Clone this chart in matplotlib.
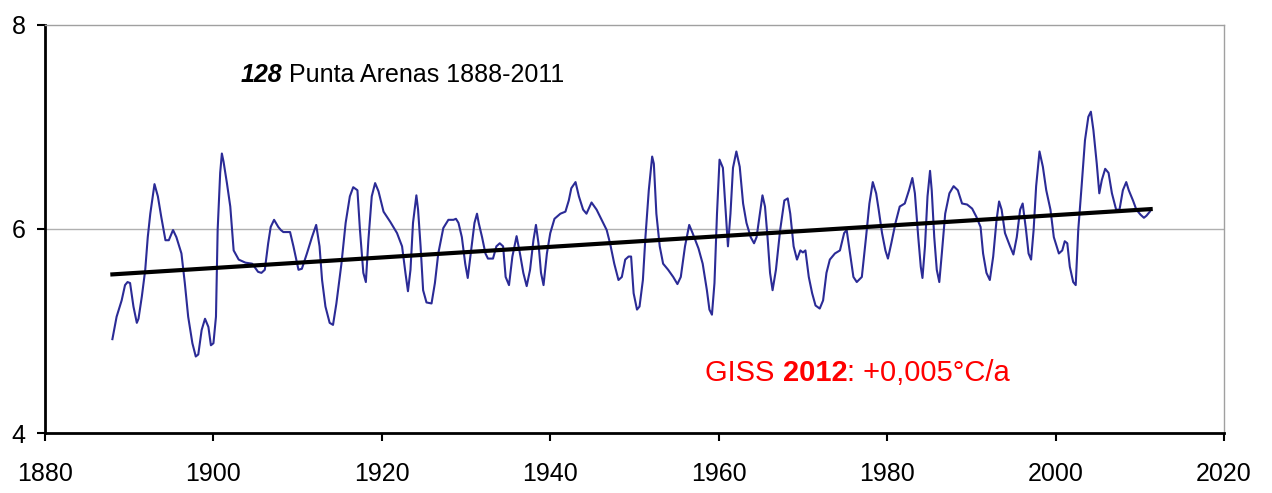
"""
plot.py
-------
Punta Arenas (station 128) annual mean temperature, 1888-2011, with linear trend.
"""
import matplotlib.pyplot as plt

plt.rcParams["font.family"] = ["Liberation Sans", "DejaVu Sans"]

# smoothed temperature series (year, degC)
years = [
    1888.0, 1888.5, 1889.1, 1889.5, 1889.8, 1890.1, 1890.5, 1890.9, 1891.1, 1891.5,
    1891.9, 1892.2, 1892.5, 1893.0, 1893.4, 1893.8, 1894.3, 1894.7, 1895.2, 1895.6,
    1896.2, 1896.6, 1897.0, 1897.5, 1897.9, 1898.2, 1898.6, 1899.0, 1899.4, 1899.7,
    1900.0, 1900.3, 1900.5, 1900.8, 1901.0, 1901.2, 1901.6, 1902.0, 1902.4, 1903.0,
    1903.8, 1904.6, 1905.3, 1905.7, 1906.1, 1906.5, 1906.8, 1907.2, 1907.7,
    1908.0, 1908.3, 1909.1, 1909.5, 1910.1, 1910.5, 1911.1, 1911.7, 1912.2, 1912.6,
    1912.9, 1913.3, 1913.8, 1914.2, 1914.6, 1915.2, 1915.7, 1916.2, 1916.6, 1917.1,
    1917.4, 1917.8, 1918.1, 1918.4, 1918.8, 1919.2, 1919.6, 1920.2, 1921.0, 1921.8,
    1922.4, 1922.8, 1923.1, 1923.4, 1923.7, 1924.1, 1924.3, 1924.6, 1924.9, 1925.3,
    1925.9, 1926.3, 1926.7, 1927.3, 1927.9, 1928.5,
    1928.8, 1929.1, 1929.5, 1929.9, 1930.2, 1930.6, 1931.0, 1931.3, 1931.5, 1931.9,
    1932.3, 1932.6, 1933.2, 1933.6, 1934.0, 1934.4, 1934.7, 1935.1, 1935.5, 1936.0,
    1936.4, 1936.8, 1937.2, 1937.6, 1938.0, 1938.3, 1938.6, 1938.9, 1939.2, 1939.6,
    1940.0, 1940.5, 1941.2, 1941.8, 1942.2, 1942.5, 1943.0, 1943.4, 1943.9, 1944.3,
    1944.9, 1945.5, 1946.1, 1946.7, 1947.1, 1947.6, 1948.1, 1948.5, 1948.9, 1949.3,
    1949.6, 1949.9, 1950.3, 1950.6, 1951.0, 1951.3, 1951.7, 1952.1, 1952.3, 1952.6,
    1953.0, 1953.4, 1954.0, 1954.6, 1955.1, 1955.5, 1956.0, 1956.5, 1956.9, 1957.6,
    1958.1, 1958.6, 1958.9, 1959.2, 1959.5, 1959.8, 1960.1, 1960.5, 1960.8, 1961.1,
    1961.4, 1961.7, 1962.1, 1962.5, 1962.9, 1963.3, 1963.8, 1964.2, 1964.5, 1964.9,
    1965.2, 1965.5, 1965.8, 1966.1, 1966.4, 1966.8, 1967.3, 1967.8, 1968.2, 1968.5,
    1968.9, 1969.3, 1969.7, 1970.0,
    1970.3, 1970.7, 1971.1, 1971.5, 1972.0, 1972.4, 1972.8, 1973.2, 1973.8, 1974.4,
    1974.9, 1975.2, 1975.6, 1976.0, 1976.4, 1977.0, 1977.5, 1977.9, 1978.3, 1978.7,
    1979.0, 1979.4, 1979.8, 1980.1, 1980.5, 1981.0, 1981.5, 1982.1, 1982.6, 1983.0,
    1983.3, 1983.7, 1984.0, 1984.2, 1984.5, 1984.8, 1985.1, 1985.3, 1985.6, 1985.9,
    1986.2, 1986.5, 1986.9, 1987.4, 1987.9, 1988.4, 1988.9, 1989.5, 1990.1, 1990.6,
    1991.1, 1991.4, 1991.8, 1992.2, 1992.6, 1993.0, 1993.3, 1993.6, 1994.0, 1994.6,
    1995.0, 1995.4, 1995.8, 1996.1, 1996.5, 1996.8, 1997.1, 1997.4, 1997.7, 1998.1,
    1998.5, 1998.9, 1999.4, 1999.8, 2000.4, 2000.8, 2001.1, 2001.4, 2001.7, 2002.1,
    2002.4, 2002.7, 2003.1, 2003.5, 2003.9, 2004.2, 2004.5, 2004.9, 2005.2, 2005.5,
    2005.9, 2006.3, 2006.7, 2007.2, 2007.6, 2008.0, 2008.4, 2008.7, 2009.2, 2009.6,
    2010.1, 2010.5, 2010.8, 2011.2,
]
temps = [
    4.92, 5.14, 5.30, 5.45, 5.48, 5.47, 5.24, 5.08, 5.12, 5.34,
    5.60, 5.92, 6.15, 6.44, 6.32, 6.12, 5.89, 5.89, 5.99, 5.92,
    5.76, 5.47, 5.14, 4.88, 4.75, 4.77, 5.01, 5.12, 5.04, 4.86,
    4.88, 5.14, 5.99, 6.55, 6.74, 6.66, 6.45, 6.22, 5.79, 5.70,
    5.67, 5.66, 5.58, 5.57, 5.60, 5.86, 6.02, 6.09, 6.02,
    5.99, 5.97, 5.97, 5.83, 5.60, 5.61, 5.76, 5.92, 6.04, 5.83,
    5.50, 5.24, 5.08, 5.06, 5.27, 5.66, 6.06, 6.32, 6.41, 6.38,
    5.99, 5.57, 5.48, 5.89, 6.32, 6.45, 6.37, 6.17, 6.07, 5.96,
    5.83, 5.57, 5.39, 5.60, 6.06, 6.33, 6.19, 5.83, 5.40, 5.28,
    5.27, 5.47, 5.76, 6.01, 6.09, 6.09,
    6.10, 6.06, 5.92, 5.66, 5.52, 5.79, 6.06, 6.15, 6.06, 5.92,
    5.76, 5.71, 5.71, 5.83, 5.86, 5.83, 5.53, 5.45, 5.73, 5.93,
    5.76, 5.57, 5.44, 5.60, 5.89, 6.04, 5.86, 5.57, 5.45, 5.76,
    5.96, 6.10, 6.15, 6.17, 6.28, 6.40, 6.46, 6.32, 6.19, 6.15,
    6.26, 6.19, 6.09, 5.99, 5.86, 5.66, 5.50, 5.53, 5.70, 5.73,
    5.73, 5.37, 5.21, 5.24, 5.50, 5.92, 6.38, 6.71, 6.64, 6.15,
    5.83, 5.66, 5.60, 5.53, 5.46, 5.53, 5.83, 6.04, 5.96, 5.81,
    5.66, 5.40, 5.21, 5.16, 5.47, 6.15, 6.68, 6.60, 6.22, 5.83,
    6.15, 6.60, 6.76, 6.61, 6.25, 6.06, 5.92, 5.86, 5.92, 6.15,
    6.33, 6.22, 5.92, 5.57, 5.40, 5.60, 5.99, 6.28, 6.30, 6.15,
    5.83, 5.70, 5.79, 5.77,
    5.79, 5.53, 5.37, 5.25, 5.22, 5.30, 5.57, 5.70, 5.76, 5.79,
    5.96, 5.99, 5.76, 5.53, 5.48, 5.53, 5.92, 6.25, 6.46, 6.35,
    6.19, 5.96, 5.79, 5.71, 5.86, 6.06, 6.22, 6.25, 6.38, 6.50,
    6.35, 5.92, 5.63, 5.52, 5.83, 6.32, 6.57, 6.38, 5.92, 5.60,
    5.48, 5.76, 6.15, 6.35, 6.42, 6.38, 6.25, 6.24, 6.20, 6.12,
    6.02, 5.76, 5.57, 5.50, 5.73, 6.09, 6.27, 6.19, 5.96, 5.83,
    5.75, 5.92, 6.19, 6.25, 5.99, 5.76, 5.70, 5.99, 6.42, 6.76,
    6.61, 6.38, 6.19, 5.92, 5.76, 5.79, 5.88, 5.86, 5.63, 5.48,
    5.45, 5.99, 6.42, 6.87, 7.10, 7.15, 6.97, 6.64, 6.35, 6.48,
    6.59, 6.55, 6.35, 6.19, 6.19, 6.38, 6.46, 6.38, 6.28, 6.19,
    6.14, 6.11, 6.13, 6.17,
]

# linear trend end points (+0.005 degC per year)
trend_years = [1888.0, 2011.3]
trend_temps = [5.555, 6.195]

fig = plt.figure(figsize=(12.72, 4.93), dpi=100)
ax = fig.add_axes([0.0354, 0.1217, 0.9268, 0.8276])

ax.axhline(6, color="#b0b0b0", lw=1.0, zorder=1)
ax.plot(years, temps, color="#2b2b96", lw=1.5, zorder=2)
ax.plot(trend_years, trend_temps, color="black", lw=3.0, zorder=3)

ax.set_xlim(1880, 2020)
ax.set_ylim(4, 8)
ax.set_xticks(range(1880, 2021, 20))
ax.set_yticks([4, 6, 8])
ax.tick_params(axis="both", direction="out", length=6, width=1.5, labelsize=18, colors="black")
ax.tick_params(axis="x", pad=15)
ax.tick_params(axis="y", pad=8)

for side in ("left", "bottom"):
    ax.spines[side].set_linewidth(2.0)
    ax.spines[side].set_color("black")
for side in ("top", "right"):
    ax.spines[side].set_linewidth(1.0)
    ax.spines[side].set_color("#a0a0a0")

# station label: bold italic number followed by plain name
t1 = ax.text(1903.2, 7.39, "128", fontsize=18, fontweight="bold", fontstyle="italic",
             va="bottom", ha="left")
ax.annotate(" Punta Arenas 1888-2011", xy=(1, 0), xycoords=t1, fontsize=18,
            va="bottom", ha="left")

# trend annotation in red
r1 = ax.text(1958.4, 4.45, "GISS ", fontsize=21, color="red", va="bottom", ha="left")
r2 = ax.annotate("2012", xy=(1, 0), xycoords=r1, fontsize=21, fontweight="bold",
                 color="red", va="bottom", ha="left")
ax.annotate(": +0,005°C/a", xy=(1, 0), xycoords=r2, fontsize=21, color="red",
            va="bottom", ha="left")

fig.savefig("out.png", dpi=100)
